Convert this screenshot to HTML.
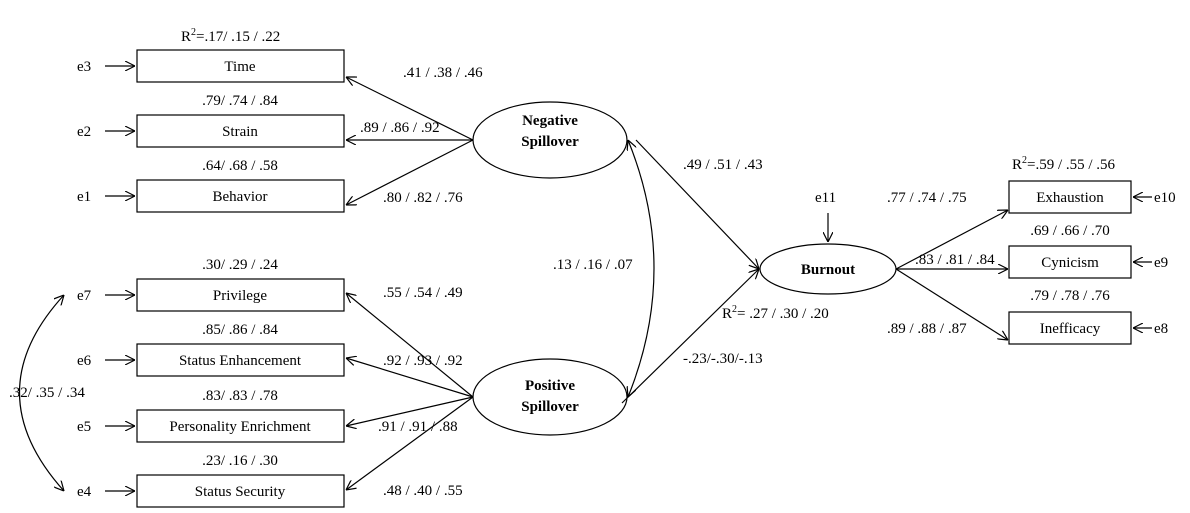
<!DOCTYPE html>
<html><head><style>body{margin:0;background:#fff}svg{display:block}text{font-family:"Liberation Serif",serif;font-size:15px;fill:#000}</style></head><body>
<svg width="1190" height="513" viewBox="0 0 1190 513">
<defs><marker id="a" viewBox="0 0 10 10" refX="10" refY="5" markerWidth="10" markerHeight="10" orient="auto-start-reverse" markerUnits="userSpaceOnUse"><path d="M0,0 L10,5 L0,10" fill="none" stroke="#000" stroke-width="1.2"/></marker></defs>
<g fill="none" stroke="#000" stroke-width="1.2">
<rect x="137" y="50" width="207" height="32"/>
<rect x="137" y="115" width="207" height="32"/>
<rect x="137" y="180" width="207" height="32"/>
<rect x="137" y="279" width="207" height="32"/>
<rect x="137" y="344" width="207" height="32"/>
<rect x="137" y="410" width="207" height="32"/>
<rect x="137" y="475" width="207" height="32"/>
<rect x="1009" y="181" width="122" height="32"/>
<rect x="1009" y="246" width="122" height="32"/>
<rect x="1009" y="312" width="122" height="32"/>
<ellipse cx="550" cy="140" rx="77" ry="38"/>
<ellipse cx="550" cy="397" rx="77" ry="38"/>
<ellipse cx="828" cy="269" rx="68" ry="25"/>
</g>
<g stroke="#000" stroke-width="1.2" marker-end="url(#a)">
<line x1="105" y1="66" x2="135" y2="66"/>
<line x1="105" y1="131" x2="135" y2="131"/>
<line x1="105" y1="196" x2="135" y2="196"/>
<line x1="105" y1="295" x2="135" y2="295"/>
<line x1="105" y1="360" x2="135" y2="360"/>
<line x1="105" y1="426" x2="135" y2="426"/>
<line x1="105" y1="491" x2="135" y2="491"/>
<line x1="1152" y1="197" x2="1133" y2="197"/>
<line x1="1152" y1="262" x2="1133" y2="262"/>
<line x1="1152" y1="328" x2="1133" y2="328"/>
<line x1="828" y1="213" x2="828" y2="242"/>
<line x1="473" y1="140" x2="346" y2="77"/>
<line x1="473" y1="140" x2="346" y2="140"/>
<line x1="473" y1="140" x2="346" y2="205"/>
<line x1="473" y1="397" x2="346" y2="293"/>
<line x1="473" y1="397" x2="346" y2="358"/>
<line x1="473" y1="397" x2="346" y2="426"/>
<line x1="473" y1="397" x2="346" y2="490"/>
<line x1="636" y1="140" x2="759" y2="269"/>
<line x1="622" y1="403" x2="759" y2="269"/>
<line x1="896" y1="269" x2="1008" y2="210"/>
<line x1="896" y1="269" x2="1008" y2="269"/>
<line x1="896" y1="269" x2="1008" y2="340"/>
</g>
<path d="M628,140 Q680,268 628,397" fill="none" stroke="#000" stroke-width="1.2" marker-start="url(#a)" marker-end="url(#a)"/>
<path d="M64,295 Q-25,392 64,491" fill="none" stroke="#000" stroke-width="1.2" marker-start="url(#a)" marker-end="url(#a)"/>
<g text-anchor="middle">
<text x="240" y="71">Time</text><text x="240" y="136">Strain</text><text x="240" y="201">Behavior</text>
<text x="240" y="300">Privilege</text><text x="240" y="365">Status Enhancement</text><text x="240" y="431">Personality Enrichment</text><text x="240" y="496">Status Security</text>
<text x="1070" y="202">Exhaustion</text><text x="1070" y="267">Cynicism</text><text x="1070" y="333">Inefficacy</text>
<text x="550" y="125" font-weight="bold">Negative</text><text x="550" y="146" font-weight="bold">Spillover</text>
<text x="550" y="390" font-weight="bold">Positive</text><text x="550" y="411" font-weight="bold">Spillover</text>
<text x="828" y="274" font-weight="bold">Burnout</text>
<text x="240" y="105">.79/ .74 / .84</text><text x="240" y="170">.64/ .68 / .58</text>
<text x="240" y="269">.30/ .29 / .24</text><text x="240" y="334">.85/ .86 / .84</text><text x="240" y="400">.83/ .83 / .78</text><text x="240" y="465">.23/ .16 / .30</text>
<text x="1070" y="235">.69 / .66 / .70</text><text x="1070" y="300">.79 / .78 / .76</text>
</g>
<text x="181" y="41">R<tspan font-size="10" dy="-6">2</tspan><tspan dy="6">=.17/ .15 / .22</tspan></text>
<text x="1012" y="169">R<tspan font-size="10" dy="-6">2</tspan><tspan dy="6">=.59 / .55 / .56</tspan></text>
<text x="722" y="318">R<tspan font-size="10" dy="-6">2</tspan><tspan dy="6">= .27 / .30 / .20</tspan></text>
<text x="77" y="71">e3</text><text x="77" y="136">e2</text><text x="77" y="201">e1</text>
<text x="77" y="300">e7</text><text x="77" y="365">e6</text><text x="77" y="431">e5</text><text x="77" y="496">e4</text>
<text x="1154" y="202">e10</text><text x="1154" y="267">e9</text><text x="1154" y="333">e8</text>
<text x="815" y="202">e11</text>
<text x="403" y="77">.41 / .38 / .46</text>
<text x="360" y="132">.89 / .86 / .92</text>
<text x="383" y="202">.80 / .82 / .76</text>
<text x="383" y="297">.55 / .54 / .49</text>
<text x="383" y="365">.92 / .93 / .92</text>
<text x="378" y="431">.91 / .91 / .88</text>
<text x="383" y="495">.48 / .40 / .55</text>
<text x="553" y="269">.13 / .16 / .07</text>
<text x="683" y="169">.49 / .51 / .43</text>
<text x="683" y="363">-.23/-.30/-.13</text>
<text x="887" y="202">.77 / .74 / .75</text>
<text x="915" y="264">.83 / .81 / .84</text>
<text x="887" y="333">.89 / .88 / .87</text>
<text x="9" y="397">.32/ .35 / .34</text>
</svg>
</body></html>
